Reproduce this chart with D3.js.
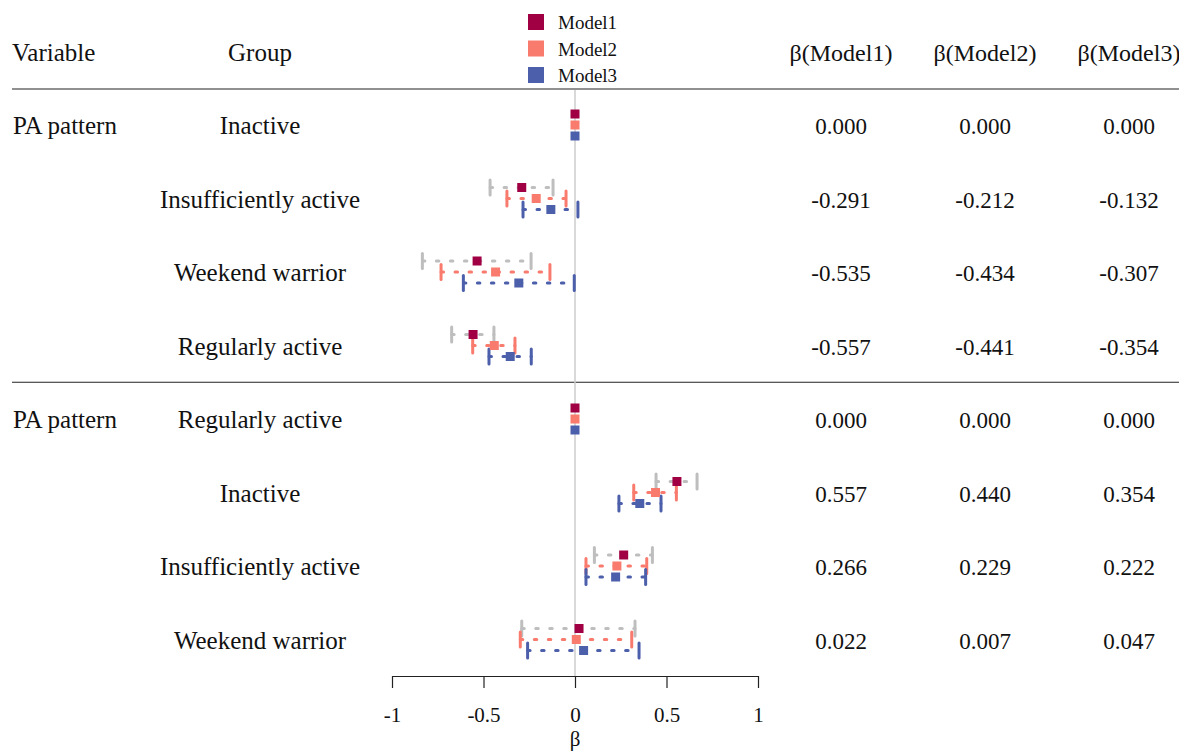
<!DOCTYPE html>
<html>
<head>
<meta charset="utf-8">
<script src="https://cdn.jsdelivr.net/npm/d3@7"></script>
<style>
  body { margin: 0; background: #fff; }
  svg text { font-family: "Liberation Serif", "Times New Roman", serif; fill: #111; }
</style>
</head>
<body>
<div id="chart"></div>
<script>
// rows of the forest plot, top to bottom
var variables = ["PA pattern", "", "", "", "PA pattern", "", "", ""];
var groups = ["Inactive", "Insufficiently active", "Weekend warrior", "Regularly active",
              "Regularly active", "Inactive", "Insufficiently active", "Weekend warrior"];

var models = ["Model1", "Model2", "Model3"];

// beta estimates per model
var beta1 = [0, -0.291, -0.535, -0.557, 0, 0.557, 0.266, 0.022];
var beta2 = [0, -0.212, -0.434, -0.441, 0, 0.440, 0.229, 0.007];
var beta3 = [0, -0.132, -0.307, -0.354, 0, 0.354, 0.222, 0.047];

// confidence limits (null = reference group, no interval)
var lo1 = [null, -0.464, -0.834, -0.674, null, 0.443, 0.106, -0.291];
var hi1 = [null, -0.120, -0.240, -0.443, null, 0.667, 0.423, 0.328];
var lo2 = [null, -0.372, -0.732, -0.559, null, 0.321, 0.060, -0.299];
var hi2 = [null, -0.049, -0.137, -0.328, null, 0.554, 0.392, 0.310];
var lo3 = [null, -0.284, -0.610, -0.470, null, 0.240, 0.060, -0.259];
var hi3 = [null, 0.016, -0.004, -0.239, null, 0.470, 0.386, 0.350];

var tickVals = [-1, -0.5, 0, 0.5, 1];
var tickLabels = ["-1", "-0.5", "0", "0.5", "1"];

var pointColors = ["#a00043", "#f97b6e", "#4c5fab"];
var ciColors = ["#bebebe", "#f97b6e", "#4c5fab"];

var W = 1179, H = 753;
var betas = [beta1, beta2, beta3];
var los = [lo1, lo2, lo3];
var his = [hi1, hi2, hi3];

var svg = d3.select("#chart").append("svg")
            .attr("width", W)
            .attr("height", H);

var x = d3.scaleLinear().domain([-1, 1]).range([392, 758]);
var y = d3.scaleLinear().domain([0, groups.length - 1]).range([125, 639.5]);
var offset = d3.scaleLinear().domain([0, 2]).range([-11, 11]);

var valueCols = [841, 985, 1129];

// header
svg.append("text").attr("x", 12).attr("y", 61).attr("font-size", 25).text("Variable");
svg.append("text").attr("x", 260).attr("y", 61).attr("text-anchor", "middle").attr("font-size", 25).text("Group");
models.forEach(function(m, i){
  svg.append("text").attr("x", valueCols[i]).attr("y", 61)
     .attr("text-anchor", "middle").attr("font-size", 24)
     .text("\u03b2(" + m + ")");
});

// legend
var legend = svg.append("g");
models.forEach(function(m, i){
  var ly = 22 + i * 26.5;
  legend.append("rect").attr("x", 528).attr("y", ly - 8).attr("width", 16).attr("height", 16)
        .attr("fill", pointColors[i]);
  legend.append("text").attr("x", 558).attr("y", ly + 7).attr("font-size", 19).text(m);
});

// horizontal rules
svg.append("line").attr("x1", 12).attr("x2", W).attr("y1", 89).attr("y2", 89)
   .attr("stroke", "#222").attr("stroke-width", 1.2);
svg.append("line").attr("x1", 12).attr("x2", W)
   .attr("y1", (y(3) + y(4)) / 2).attr("y2", (y(3) + y(4)) / 2)
   .attr("stroke", "#222").attr("stroke-width", 1.2);

// reference line at 0
svg.append("line").attr("x1", x(0)).attr("x2", x(0)).attr("y1", 90).attr("y2", 676)
   .attr("stroke", "#cccccc").attr("stroke-width", 1.5);

// row labels and values
groups.forEach(function(g, r){
  var ty = y(r) + 9;
  if (variables[r]) {
    svg.append("text").attr("x", 13).attr("y", ty).attr("font-size", 25).text(variables[r]);
  }
  svg.append("text").attr("x", 260).attr("y", ty).attr("text-anchor", "middle")
     .attr("font-size", 25).text(g);
  betas.forEach(function(b, m){
    svg.append("text").attr("x", valueCols[m]).attr("y", ty).attr("text-anchor", "middle")
       .attr("font-size", 23).text(b[r].toFixed(3));
  });
});

// intervals and points
var marks = svg.append("g");
models.forEach(function(m, i){
  groups.forEach(function(g, r){
    var cy = y(r) + offset(i);
    if (los[i][r] !== null) {
      marks.append("line")
           .attr("x1", x(los[i][r])).attr("x2", x(his[i][r]))
           .attr("y1", cy).attr("y2", cy)
           .attr("stroke", ciColors[i]).attr("stroke-width", 3)
           .attr("stroke-linecap", "round")
           .attr("stroke-dasharray", "2.5,11.5");
      [los[i][r], his[i][r]].forEach(function(v){
        marks.append("line")
             .attr("x1", x(v)).attr("x2", x(v))
             .attr("y1", cy - 7.5).attr("y2", cy + 7.5)
             .attr("stroke", ciColors[i]).attr("stroke-width", 3)
             .attr("stroke-linecap", "round");
      });
    }
  });
});
models.forEach(function(m, i){
  groups.forEach(function(g, r){
    var cy = y(r) + offset(i);
    marks.append("rect")
         .attr("x", x(betas[i][r]) - 4.5).attr("y", cy - 4.5)
         .attr("width", 9).attr("height", 9)
         .attr("fill", pointColors[i]);
  });
});

// x axis
var axis = d3.axisBottom(x)
             .tickValues(tickVals)
             .tickFormat(function(d, i){ return tickLabels[i]; })
             .tickSize(12)
             .tickSizeOuter(0);

var gx = svg.append("g").attr("transform", "translate(0,676)").call(axis);
gx.select(".domain").attr("stroke", "#222").attr("stroke-width", 1.2);
gx.selectAll(".tick line").attr("stroke", "#222").attr("stroke-width", 1.2);
gx.selectAll(".tick text")
  .attr("y", 46).attr("dy", null)
  .attr("font-size", 21)
  .attr("fill", "#111");

svg.append("text").attr("x", x(0)).attr("y", 746).attr("text-anchor", "middle")
   .attr("font-size", 21).text("\u03b2");
</script>
</body>
</html>
